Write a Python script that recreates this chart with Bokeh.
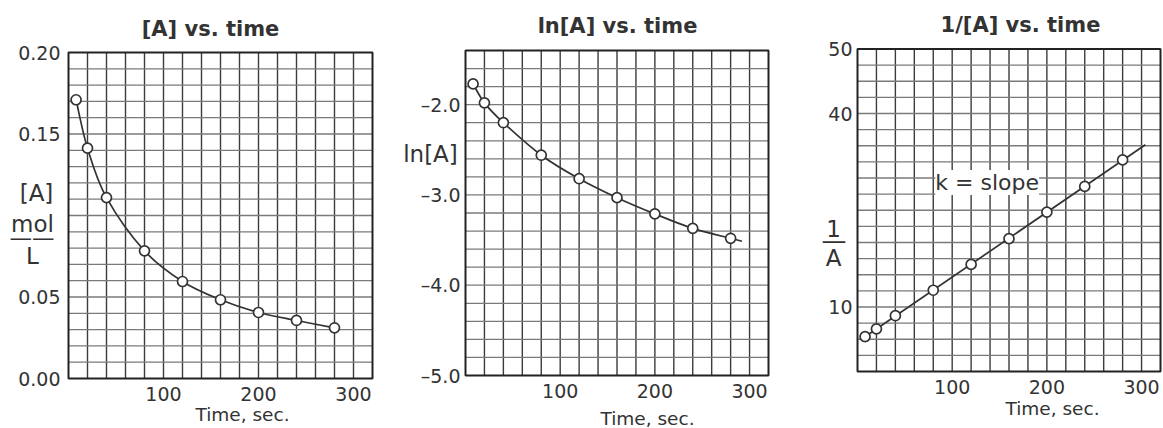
import numpy as np
from bokeh.plotting import figure
from bokeh.layouts import row
from bokeh.models import (Range1d, FixedTicker, Label, NumeralTickFormatter,
                          CustomJSTickFormatter)
from bokeh.embed import file_html
from bokeh.resources import INLINE

# ---------------- data ----------------
time_s = [8, 20, 40, 80, 120, 160, 200, 240, 280]
conc_A = [0.171, 0.1413, 0.111, 0.0783, 0.0595, 0.0483, 0.0405, 0.0356, 0.0311]
ln_A = [-1.77, -1.98, -2.20, -2.56, -2.82, -3.03, -3.21, -3.37, -3.48]
inv_A = [5.4, 6.6, 8.65, 12.6, 16.6, 20.6, 24.7, 28.7, 32.8]

x_ticks = [100, 200, 300]
conc_ticks = [0.0, 0.05, 0.15, 0.20]
ln_ticks = [-5.0, -4.0, -3.0, -2.0]
inv_ticks = [10, 40, 50]

titles = ["[A] vs. time", "ln[A] vs. time", "1/[A] vs. time"]
x_label = "Time, sec."
slope_text = "k = slope"

FONT = "DejaVu Sans"
INK = "#333333"
H = 428
T_MAX = 320


def make_fig(width, box, yr, ygrid_step, ytick_vals, ystandoff):
    """box = graph-paper pixel box (left, right, top, bottom) inside this figure."""
    gl, gr, gt, gb = box
    sx = (gr - gl) / T_MAX
    sy = (gb - gt) / (yr[1] - yr[0])
    xr = Range1d(-gl / sx, T_MAX + (width - gr) / sx)
    yrange = Range1d(yr[0] - (H - gb) / sy, yr[1] + gt / sy)
    p = figure(width=width, height=H, output_backend="svg", toolbar_location=None,
               x_range=xr, y_range=yrange, min_border=0,
               min_border_left=0, min_border_right=0,
               min_border_top=0, min_border_bottom=0)
    p.background_fill_color = "white"
    p.border_fill_color = "white"
    p.outline_line_color = None
    p.xgrid.visible = False
    p.ygrid.visible = False
    for ax in (p.xaxis[0], p.yaxis[0]):
        ax.axis_line_color = None
        ax.major_tick_out = 0
        ax.major_tick_in = 0
        ax.minor_tick_out = 0
        ax.minor_tick_in = 0
        ax.major_label_text_font = FONT
        ax.major_label_text_font_size = "19px"
        ax.major_label_text_color = INK
    p.xaxis.ticker = FixedTicker(ticks=x_ticks)
    p.xaxis.fixed_location = yr[0]
    p.xaxis.major_label_standoff = 8
    p.yaxis.ticker = FixedTicker(ticks=ytick_vals)
    p.yaxis.fixed_location = 0
    p.yaxis.major_label_standoff = ystandoff

    # graph paper
    vx = list(np.arange(20, T_MAX, 20))
    p.segment(x0=vx, x1=vx, y0=[yr[0]] * len(vx), y1=[yr[1]] * len(vx),
              line_color="#3c3c3c", line_width=1.4)
    n = int(round((yr[1] - yr[0]) / ygrid_step))
    hy = [yr[0] + i * ygrid_step for i in range(1, n)]
    p.segment(x0=[0] * len(hy), x1=[T_MAX] * len(hy), y0=hy, y1=hy,
              line_color="#7a7a7a", line_width=1.3)
    p.quad(left=0, right=T_MAX, bottom=yr[0], top=yr[1], fill_color=None,
           line_color="#222222", line_width=2)
    return p


def lab(p, text, x, y_top, size, bold=False, bg=None):
    l = Label(x=x, y=H - y_top, x_units="screen", y_units="screen", text=text,
              text_font=FONT, text_font_size=size, text_color=INK,
              text_font_style="bold" if bold else "normal",
              text_align="center", text_baseline="middle")
    if bg:
        l.background_fill_color = bg
        l.background_fill_alpha = 1.0
    p.add_layout(l)


def smooth(p, xs, ys):
    xs = np.asarray(xs, float)
    ys = np.asarray(ys, float)
    n = len(xs)
    x0, y0, x1, y1, cx0, cy0, cx1, cy1 = ([] for _ in range(8))
    for i in range(n - 1):
        a = i - 1 if i > 0 else i
        d = i + 2 if i + 2 < n else i + 1
        x0.append(xs[i]); y0.append(ys[i]); x1.append(xs[i + 1]); y1.append(ys[i + 1])
        cx0.append(xs[i] + (xs[i + 1] - xs[a]) / 6); cy0.append(ys[i] + (ys[i + 1] - ys[a]) / 6)
        cx1.append(xs[i + 1] - (xs[d] - xs[i]) / 6); cy1.append(ys[i + 1] - (ys[d] - ys[i]) / 6)
    p.bezier(x0=x0, y0=y0, x1=x1, y1=y1, cx0=cx0, cy0=cy0, cx1=cx1, cy1=cy1,
             line_color=INK, line_width=1.7)


def points(p, xs, ys):
    p.scatter(xs, ys, marker="circle", size=10, fill_color="white",
              line_color=INK, line_width=1.7)


# ---------------- panel 1 ----------------
p1 = make_fig(385, (68, 372, 52, 378), (0.0, 0.20), 0.01, conc_ticks, 8)
p1.yaxis.formatter = NumeralTickFormatter(format="0.00")
smooth(p1, time_s, conc_A)
points(p1, time_s, conc_A)
lab(p1, titles[0], 210, 28, "21px", bold=True)
lab(p1, "[A]", 36, 192, "23px")
lab(p1, "mol", 32, 223, "23px")
lab(p1, "\u2014\u2014", 31.5, 237, "22.5px")
lab(p1, "L", 32, 255, "23px")
lab(p1, x_label, 242, 414, "18.5px")

# ---------------- panel 2 ----------------
p2 = make_fig(390, (80, 383, 50, 375), (-5.0, -1.4), 0.2, ln_ticks, 5)
p2.yaxis.formatter = CustomJSTickFormatter(
    code="return (tick < 0 ? '\\u2013' : '') + Math.abs(tick).toFixed(1);")
smooth(p2, time_s, ln_A)
tail_slope = (ln_A[-1] - ln_A[-2]) / (time_s[-1] - time_s[-2])
p2.line([time_s[-1], time_s[-1] + 12], [ln_A[-1], ln_A[-1] + 12 * tail_slope],
        line_color=INK, line_width=1.7)
points(p2, time_s, ln_A)
lab(p2, titles[1], 232, 25, "21px", bold=True)
lab(p2, "ln[A]", 45, 153, "23px")
lab(p2, x_label, 262, 418, "18.5px")

# ---------------- panel 3 ----------------
p3 = make_fig(388, (82, 385, 48.5, 371), (0, 50), 2.5, inv_ticks, 5)
k, b = np.polyfit(time_s, inv_A, 1)
line_t = [time_s[0], 304]
p3.line(line_t, [k * t + b for t in line_t], line_color=INK, line_width=1.7)
points(p3, time_s, inv_A)
slope_lbl = Label(x=137, y=29.3, text=slope_text, text_font=FONT, text_font_size="22px",
                  text_color=INK, text_align="center", text_baseline="middle",
                  background_fill_color="white", background_fill_alpha=1.0)
p3.add_layout(slope_lbl)
lab(p3, titles[2], 245, 24, "21px", bold=True)
lab(p3, "1", 58, 228, "23px")
lab(p3, "\u2014", 58.5, 240, "25px")
lab(p3, "A", 58, 257, "23px")
lab(p3, x_label, 277, 408, "18.5px")

layout = row(p1, p2, p3)
open("out.html", "w").write(file_html(layout, INLINE))
